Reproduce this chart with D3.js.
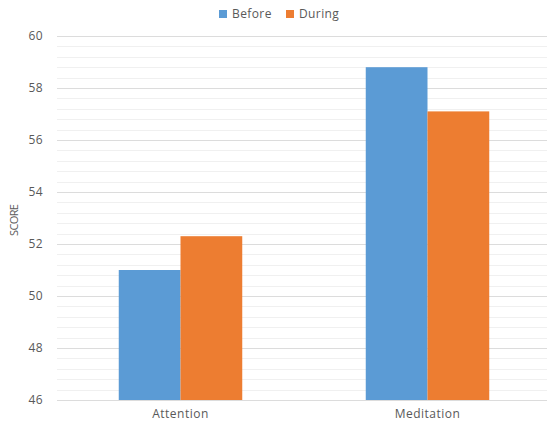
<!DOCTYPE html>
<html>
<head>
<meta charset="utf-8">
<script src="https://cdn.jsdelivr.net/npm/d3@7"></script>
<style>
  body { margin: 0; background: #fff; }
  text { font-family: "Open Sans", sans-serif; fill: #595959; }
</style>
</head>
<body>
<svg id="chart" width="547" height="423"></svg>
<script>
// chart values
var categories = ["Attention", "Meditation"];
var seriesNames = ["Before", "During"];
var before = [51.0, 58.8];
var during = [52.3, 57.1];
var yTicks = [46, 48, 50, 52, 54, 56, 58, 60];

var colors = ["#5b9bd5", "#ed7d31"];

var margin = {top: 36, right: -4, bottom: 23, left: 57};
var width = 547 - margin.left - margin.right;
var height = 423 - margin.top - margin.bottom;

var svg = d3.select("#chart");
var g = svg.append("g")
  .attr("transform", "translate(" + margin.left + "," + margin.top + ")");

var x = d3.scaleBand()
  .domain(categories)
  .range([0, width])
  .paddingInner(0.5)
  .paddingOuter(0.25);

var xs = d3.scaleBand()
  .domain(seriesNames)
  .range([0, x.bandwidth()]);

var y = d3.scaleLinear()
  .domain([46, 60])
  .range([height, 0]);

// minor grid every 0.4
var minor = d3.range(46, 60.001, 0.4).filter(function(v) {
  return yTicks.indexOf(Math.round(v * 10) / 10) < 0;
});
g.selectAll(".minor")
  .data(minor)
  .enter()
  .append("line")
  .attr("x1", 0)
  .attr("x2", width)
  .attr("y1", function(d) { return Math.round(y(d)) + 0.5; })
  .attr("y2", function(d) { return Math.round(y(d)) + 0.5; })
  .style("stroke", "#f0f0f0");

// major grid
g.selectAll(".major")
  .data(yTicks)
  .enter()
  .append("line")
  .attr("x1", 0)
  .attr("x2", width)
  .attr("y1", function(d) { return Math.round(y(d)) + 0.5; })
  .attr("y2", function(d) { return Math.round(y(d)) + 0.5; })
  .style("stroke", "#dcdcdc");

// y axis labels
var yAxis = g.append("g")
  .call(d3.axisLeft(y).tickValues(yTicks).tickSize(0).tickPadding(14));
yAxis.select(".domain").remove();
yAxis.selectAll("text")
  .style("font-size", "12px")
  .style("letter-spacing", "0.4px")
  .style("fill", "#595959")
  .attr("font-family", "Open Sans, sans-serif");

// bars
var rows = categories.map(function(c, i) {
  return {cat: c, vals: [before[i], during[i]]};
});
var grp = g.selectAll(".cat")
  .data(rows)
  .enter()
  .append("g")
  .attr("transform", function(d) { return "translate(" + x(d.cat) + ",0)"; });

grp.selectAll("rect")
  .data(function(d) { return d.vals.map(function(v, j) { return {s: seriesNames[j], v: v, j: j}; }); })
  .enter()
  .append("rect")
  .attr("x", function(d) { return xs(d.s); })
  .attr("width", xs.bandwidth())
  .attr("y", function(d) { return y(d.v); })
  .attr("height", function(d) { return y(46) - y(d.v); })
  .style("fill", function(d) { return colors[d.j]; });

// x axis
var xAxis = g.append("g")
  .attr("transform", "translate(0," + height + ")")
  .call(d3.axisBottom(x).tickSize(0).tickPadding(9));
xAxis.select(".domain").remove();
xAxis.selectAll("text")
  .style("font-size", "12px")
  .style("letter-spacing", "0.5px")
  .style("fill", "#595959")
  .attr("font-family", "Open Sans, sans-serif");

// y title
svg.append("text")
  .attr("transform", "translate(18,220) rotate(-90)")
  .attr("text-anchor", "middle")
  .style("font-size", "11px")
  .attr("textLength", 32)
  .text("SCORE");

// legend
var legend = svg.append("g").attr("transform", "translate(219,14)");
var lx = [0, 67];
seriesNames.forEach(function(s, i) {
  legend.append("rect")
    .attr("x", lx[i])
    .attr("y", -4)
    .attr("width", 8)
    .attr("height", 8)
    .style("fill", colors[i]);
  legend.append("text")
    .attr("x", lx[i] + 13)
    .attr("y", 0)
    .attr("dy", "0.35em")
    .style("font-size", "12px")
    .style("letter-spacing", "0.4px")
    .text(s);
});
</script>
</body>
</html>
